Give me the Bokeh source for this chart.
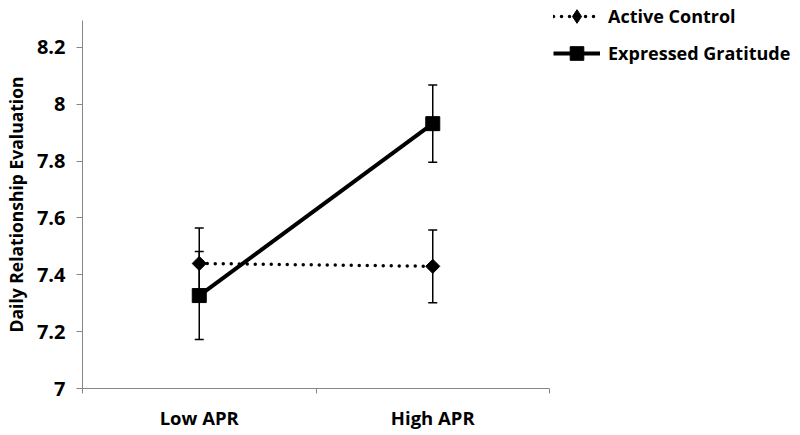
import math
from bokeh.plotting import figure
from bokeh.models import (ColumnDataSource, Whisker, TeeHead, FixedTicker,
                          Legend, LegendItem, Range1d)
from bokeh.embed import file_html
from bokeh.resources import INLINE

# ---- data ----
categories = ["Low APR", "High APR"]
control_mean = [7.44, 7.43]
control_err = [0.125, 0.128]
gratitude_mean = [7.327, 7.932]
gratitude_err = [0.155, 0.136]
y_ticks = [7, 7.2, 7.4, 7.6, 7.8, 8, 8.2]
y_tick_labels = ["7", "7.2", "7.4", "7.6", "7.8", "8", "8.2"]
y_label = "Daily Relationship Evaluation"

FONT = "Open Sans"
AXIS_COLOR = "#868686"

xs = [i + 0.5 for i in range(len(categories))]
boundaries = [float(i) for i in range(len(categories) + 1)]

ctrl = ColumnDataSource(dict(
    x=xs, y=control_mean,
    upper=[m + e for m, e in zip(control_mean, control_err)],
    lower=[m - e for m, e in zip(control_mean, control_err)]))
grat = ColumnDataSource(dict(
    x=xs, y=gratitude_mean,
    upper=[m + e for m, e in zip(gratitude_mean, gratitude_err)],
    lower=[m - e for m, e in zip(gratitude_mean, gratitude_err)]))

p = figure(frame_width=467, frame_height=368,
           min_border_left=74, min_border_right=0,
           min_border_top=20, min_border_bottom=39,
           x_range=Range1d(0, len(categories)), y_range=Range1d(7, 8.295),
           output_backend="svg", toolbar_location=None, tools="")
p.outline_line_color = None
p.grid.visible = False
p.background_fill_color = "white"
p.border_fill_color = "white"

# error bars
for src in (ctrl, grat):
    w = Whisker(source=src, base="x", upper="upper", lower="lower",
                line_color="black", line_width=1.5,
                upper_head=TeeHead(size=9, line_color="black", line_width=1.5),
                lower_head=TeeHead(size=9, line_color="black", line_width=1.5))
    p.add_layout(w)

ctrl_line = p.line("x", "y", source=ctrl, line_color="black", line_width=3.5,
                   line_dash="0 8", line_cap="round")
ctrl_pts = p.scatter("x", "y", source=ctrl, marker="square", size=10,
                     angle=math.pi / 4, fill_color="black", line_color="black")
# diamond used only for the legend key (legend keys ignore marker angle)
ctrl_key = p.scatter("x", "y", source=ctrl, marker="diamond", size=15,
                     fill_color="black", line_color="black", visible=False)
grat_line = p.line("x", "y", source=grat, line_color="black", line_width=4)
grat_pts = p.scatter("x", "y", source=grat, marker="square", size=14,
                     fill_color="black", line_color="black")

# x axis
xa = p.xaxis[0]
xa.ticker = FixedTicker(ticks=xs, minor_ticks=boundaries)
xa.major_label_overrides = {x: c for x, c in zip(xs, categories)}
xa.major_tick_line_color = None
xa.major_tick_out = 0
xa.minor_tick_in = 0
xa.minor_tick_out = 5
xa.minor_tick_line_color = AXIS_COLOR
xa.axis_line_color = AXIS_COLOR
xa.major_label_standoff = 11
xa.major_label_text_font = FONT
xa.major_label_text_font_style = "bold"
xa.major_label_text_font_size = "18.5px"
xa.major_label_text_color = "black"

# y axis
ya = p.yaxis[0]
ya.ticker = FixedTicker(ticks=y_ticks, minor_ticks=[])
ya.major_label_overrides = {t: l for t, l in zip(y_ticks, y_tick_labels)}
ya.major_tick_in = 0
ya.major_tick_out = 6
ya.major_tick_line_color = AXIS_COLOR
ya.axis_line_color = AXIS_COLOR
ya.major_label_standoff = 11
ya.major_label_text_font = FONT
ya.major_label_text_font_style = "bold"
ya.major_label_text_font_size = "20px"
ya.major_label_text_color = "black"
ya.axis_label = y_label
ya.axis_label_text_font = FONT
ya.axis_label_text_font_style = "bold"
ya.axis_label_text_font_size = "17.5px"
ya.axis_label_text_color = "black"
ya.axis_label_standoff = 6

legend = Legend(items=[
    LegendItem(label="Active Control", renderers=[ctrl_line, ctrl_key]),
    LegendItem(label="Expressed Gratitude", renderers=[grat_line, grat_pts]),
], location=(4, 318), orientation="vertical",
    glyph_width=47, glyph_height=34, spacing=3, label_standoff=8,
    padding=0, margin=0, border_line_color=None, background_fill_alpha=0,
    inactive_fill_alpha=0,
    label_text_font=FONT, label_text_font_style="bold",
    label_text_font_size="18px", label_text_color="black")
p.add_layout(legend, "right")

open("out.html", "w").write(file_html(p, INLINE))
